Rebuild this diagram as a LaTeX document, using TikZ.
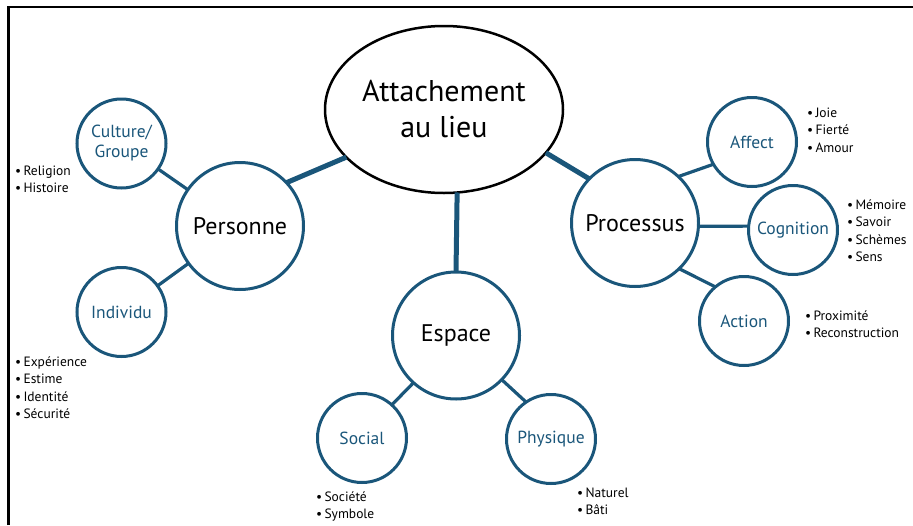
\documentclass[tikz,border=0pt]{standalone}
\usepackage{fontspec}
\setmainfont{PT Sans}
\usetikzlibrary{shapes.geometric}
\definecolor{mblue}{RGB}{26,86,122}
\begin{document}
\begin{tikzpicture}[x=1pt,y=-1pt,
  bigc/.style={circle,draw=mblue,line width=3pt,minimum size=127pt,inner sep=0pt,outer sep=0pt,font=\fontsize{24}{28}\selectfont,text=black},
  smallc/.style={circle,draw=mblue,line width=3pt,minimum size=89pt,inner sep=0pt,outer sep=0pt,font=\fontsize{17.5}{20}\selectfont,text=mblue,align=center},
  biglink/.style={draw=mblue,line width=5pt},
  smalllink/.style={draw=mblue,line width=3.2pt},
  bullets/.style={anchor=base west,align=left,inner sep=0pt,font=\fontsize{13.5}{17.5}\selectfont}
]
\useasboundingbox (0,0) rectangle (913,525);
\draw[line width=2.5pt,line join=miter] (8.5,525) -- (8.5,7.2) -- (913,7.2);

\node[ellipse,draw=black,line width=2.5pt,minimum width=238pt,minimum height=167pt,inner sep=0pt,outer sep=0pt,align=center,font=\fontsize{30}{36}\selectfont] (main) at (444,109.5) {Attachement\\au lieu};

\node[bigc] (pers) at (240,226) {Personne};
\node[bigc] (proc) at (635,223) {Processus};
\node[bigc] (esp) at (456,335.5) {Espace};

\node[smallc] (cult) at (121.5,143.5) {Culture/\\Groupe};
\node[smallc] (indiv) at (121.5,312) {Individu};
\node[smallc] (aff) at (752,142) {Affect};
\node[smallc] (cog) at (793,230) {Cognition};
\node[smallc] (act) at (744,321) {Action};
\node[smallc] (soc) at (362,438) {Social};
\node[smallc] (phys) at (551,439) {Physique};

\draw[biglink] (main.206) -- (pers.43);
\draw[biglink] (main.337) -- (proc.136);
\draw[biglink] (main.-81) -- (esp.north);

\draw[smalllink] (cult) -- (pers);
\draw[smalllink] (indiv) -- (pers);
\draw[smalllink] (proc.47) -- (aff.210);
\draw[smalllink] (proc.-3) -- (cog.175);
\draw[smalllink] (proc.-46) -- (act.130);
\draw[smalllink] (esp.228) -- (soc.48);
\draw[smalllink] (esp.-44) -- (phys.124);

\node[bullets] (l1) at (15,192.5) {•\,Religion\\•\,Histoire};
\node[bullets] (l2) at (15,418.5) {•\,Expérience\\•\,Estime\\•\,Identité\\•\,Sécurité};
\node[bullets] (l3) at (807,152) {•\,Joie\\•\,Fierté\\•\,Amour};
\node[bullets] (l4) at (847,261.5) {•\,Mémoire\\•\,Savoir\\•\,Schèmes\\•\,Sens};
\node[bullets] (l5) at (805,337.5) {•\,Proximité\\•\,Reconstruction};
\node[bullets] (l6) at (316,518.5) {•\,Société\\•\,Symbole};
\node[bullets] (l7) at (577,514.5) {•\,Naturel\\•\,Bâti};
\end{tikzpicture}
\end{document}
